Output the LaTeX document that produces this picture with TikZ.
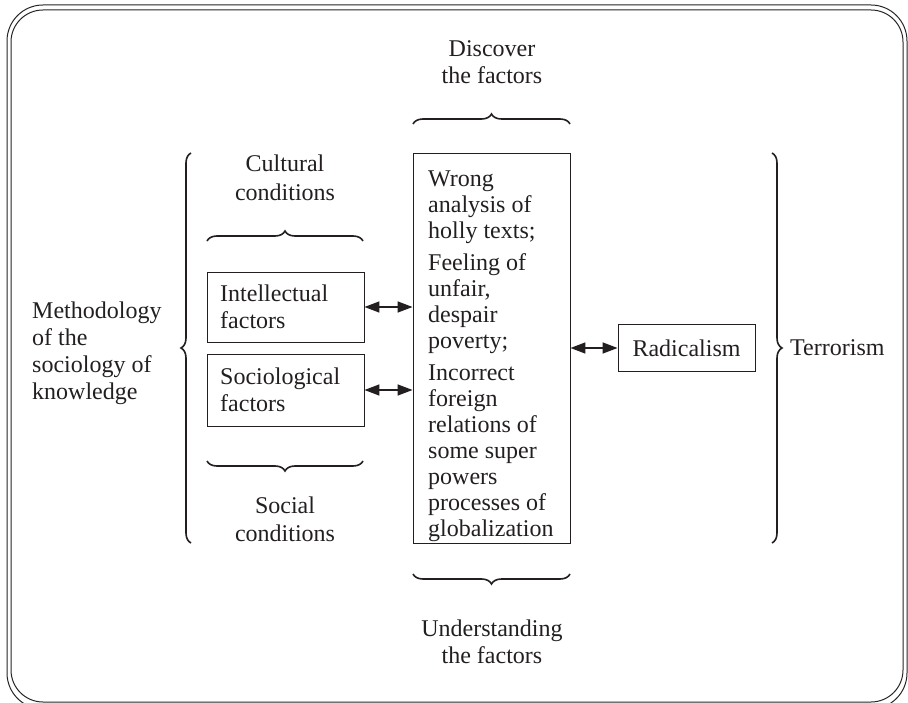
\documentclass[tikz,border=0pt]{standalone}
\usepackage{fontspec}
\setmainfont{Liberation Serif}
\usetikzlibrary{decorations.pathreplacing,arrows.meta,calc}
\definecolor{ink}{HTML}{231F20}
\begin{document}
\begin{tikzpicture}[x=1pt,y=-1pt,
  every node/.style={text=ink,font=\fontsize{24}{27}\selectfont},
  lbl/.style={align=center,inner sep=0},
  boxn/.style={draw=ink,line width=0.9pt,inner sep=0},
  brc/.style={draw=ink,line width=1.6pt,decorate,decoration={brace,amplitude=10pt}},
  biarrow/.style={draw=ink,line width=1.6pt,{Triangle[length=15pt,width=11pt]}-{Triangle[length=15pt,width=11pt]}},
  frame/.style={draw=black!85,line width=1pt}]
\useasboundingbox (0,0) rectangle (908,703);
% frame
\draw[frame,rounded corners=36pt] (7,5) rectangle (907,709);
\draw[frame,rounded corners=32pt] (11,10) rectangle (903,702);
% boxes
\node[boxn,minimum width=157,minimum height=70] (int) at (285.5,307) {};
\node[lbl,anchor=west,align=left] (intt) at (220,307) {Intellectual\\factors};
\node[boxn,minimum width=157,minimum height=72] (soc) at (285.5,390) {};
\node[lbl,anchor=west,align=left] (soct) at (220,390) {Sociological\\factors};
\node[boxn,minimum width=157,minimum height=390] (fac) at (491.5,348) {};
\node[lbl,anchor=north west,align=left,font=\fontsize{24}{26}\selectfont] (fact) at (428,171) {Wrong\\analysis of\\holly texts;\\[6pt]Feeling of\\unfair,\\despair\\poverty;\\[6pt]Incorrect\\foreign\\relations of\\some super\\powers\\processes of\\globalization};
\node[boxn,minimum width=137,minimum height=47] (rad) at (686.5,348) {Radicalism};
% labels
\node[lbl,anchor=west,align=left] (meth) at (32,353) {Methodology\\of the\\sociology of\\knowledge};
\node[lbl,font=\fontsize{24}{29}\selectfont] (cult) at (285,178) {Cultural\\conditions};
\node[lbl,font=\fontsize{24}{28}\selectfont] (social) at (285,519) {Social\\conditions};
\node[lbl] (disc) at (492,62) {Discover\\the factors};
\node[lbl] (under) at (492,642) {Understanding\\the factors};
\node[lbl,anchor=west] (terr) at (790,348) {Terrorism};
% braces
\draw[brc] (191,543) -- (191,153);
\draw[brc] (207,241) -- (363,241);
\draw[brc] (413,124) -- (570,124);
\draw[brc] (363,461) -- (207,461);
\draw[brc] (570,574) -- (413,574);
\draw[brc] (772,153) -- (772,543);
% arrows
\draw[biarrow] (int.east) -- (int.east -| fac.west);
\draw[biarrow] (soc.east) -- (soc.east -| fac.west);
\draw[biarrow] (rad.west -| fac.east) -- (rad.west);
\end{tikzpicture}
\end{document}
